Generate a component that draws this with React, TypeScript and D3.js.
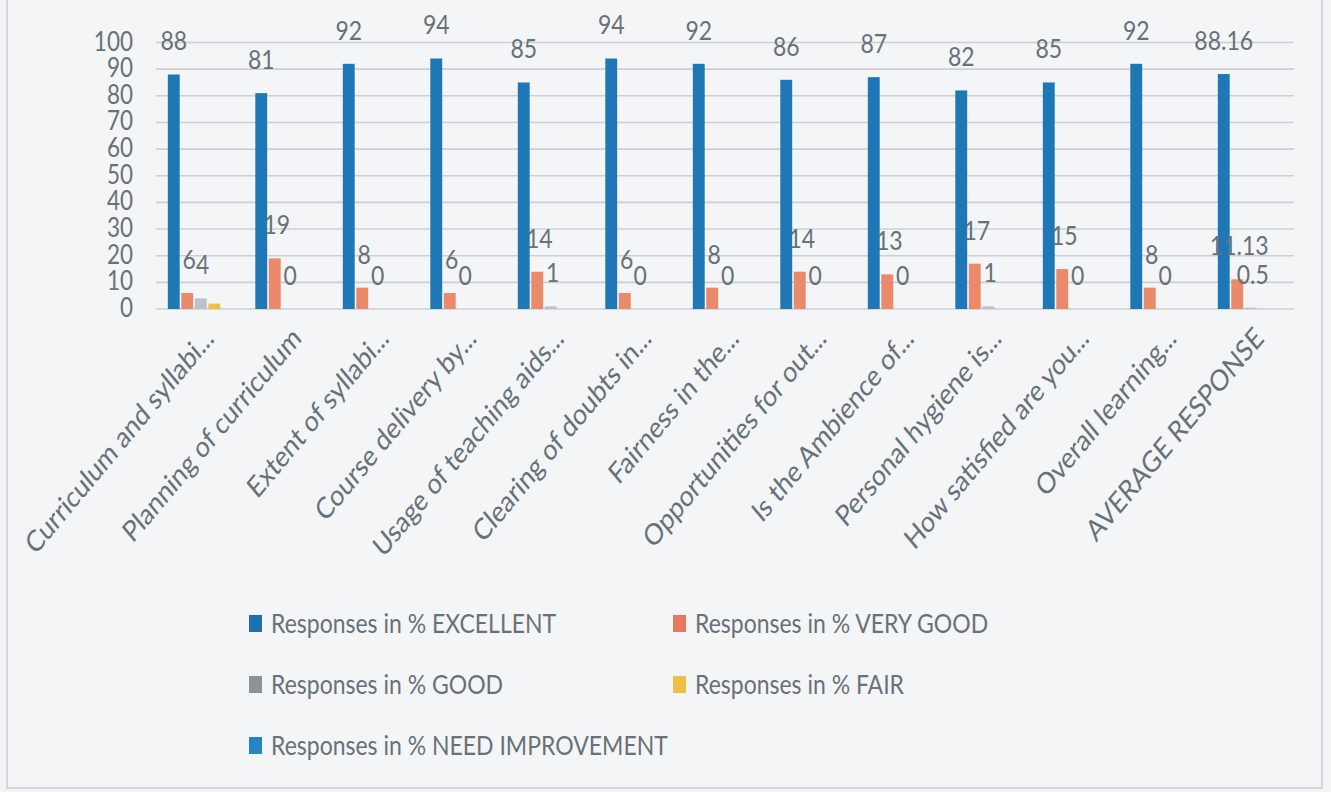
import * as d3 from "d3";
import React from "react";

const categories = [
  "Curriculum and syllabi...",
  "Planning of curriculum",
  "Extent of syllabi...",
  "Course delivery by...",
  "Usage of teaching aids...",
  "Clearing of doubts in...",
  "Fairness in the...",
  "Opportunities for out...",
  "Is the Ambience of...",
  "Personal hygiene is...",
  "How satisfied are you...",
  "Overall learning...",
  "AVERAGE RESPONSE",
];

const seriesNames = [
  "Responses in % EXCELLENT",
  "Responses in % VERY GOOD",
  "Responses in % GOOD",
  "Responses in % FAIR",
  "Responses in % NEED IMPROVEMENT",
];

const excellent = [88, 81, 92, 94, 85, 94, 92, 86, 87, 82, 85, 92, 88.16];
const veryGood = [6, 19, 8, 6, 14, 6, 8, 14, 13, 17, 15, 8, 11.13];
const good = [4, 0, 0, 0, 1, 0, 0, 0, 0, 1, 0, 0, 0.5];
const fair = [2, 0, 0, 0, 0, 0, 0, 0, 0, 0, 0, 0, 0];
const needImprovement = [0, 0, 0, 0, 0, 0, 0, 0, 0, 0, 0, 0, 0];

const seriesValues = [excellent, veryGood, good, fair, needImprovement];
// which series carry data labels in the picture
const labelled = [true, true, true, false, false];

const colors = ["#1f78b5", "#ea8a6b", "#bcc2c8", "#eec04a", "#2b88c9"];
const legendColors = ["#1f6fae", "#e8775e", "#8b9298", "#efbf45", "#2684c6"];

const W = 1331;
const H = 792;
const TEXT = "#687177";
const FONT = "Lato, 'Open Sans', sans-serif";
const SY = 1.2; // the source picture is stretched vertically

function Txt({ x, y, anchor, rotate, size, children }: any) {
  const tr = `translate(${x},${y}) scale(1,${SY})` + (rotate ? ` rotate(${rotate})` : "");
  return (
    <text
      transform={tr}
      textAnchor={anchor || "start"}
      fontFamily={FONT}
      fontSize={size || 23}
      fill={TEXT}
    >
      {children}
    </text>
  );
}

export default function App() {
  const x0 = d3.scaleBand<string>().domain(categories).range([157.5, 1295]);
  const x1 = d3
    .scaleBand<string>()
    .domain(seriesNames)
    .range([9.5, 77])
    .paddingInner(0.12)
    .paddingOuter(0.06);
  const y = d3.scaleLinear().domain([0, 100]).range([309, 42.5]);
  const ticks = y.ticks(10);

  const fmt = (v: number) => String(v);

  return (
    <svg
      width={W}
      height={H}
      style={{ position: "absolute", left: 0, top: 0, background: "#f2f4f6" }}
    >
      <rect x={0} y={0} width={W} height={H} fill="#f2f4f6" />
      <rect x={7} y={-2} width={1315} height={790} fill="#f3f5f7" stroke="#c9cdd1" strokeWidth={1.5} />

      {/* gridlines */}
      {ticks.map((t) => (
        <line key={t} x1={156} x2={1294} y1={y(t)} y2={y(t)} stroke="#cbd0d5" strokeWidth={1.6} />
      ))}

      {/* y tick labels */}
      {ticks.map((t) => (
        <Txt key={"yt" + t} x={133} y={y(t) + 8} anchor="end" size={22.5}>
          {t}
        </Txt>
      ))}

      {/* bars */}
      {categories.map((c, i) => (
        <g key={c} transform={`translate(${x0(c)},0)`}>
          {seriesNames.map((s, k) => {
            const v = seriesValues[k][i];
            return (
              <rect
                key={s}
                x={x1(s)}
                y={y(v)}
                width={x1.bandwidth()}
                height={y(0) - y(v)}
                fill={colors[k]}
              />
            );
          })}
        </g>
      ))}

      {/* data labels */}
      {categories.map((c, i) =>
        seriesNames.map((s, k) => {
          if (!labelled[k]) return null;
          const v = seriesValues[k][i];
          const cx = (x0(c) as number) + (x1(s) as number) + x1.bandwidth() / 2 + (k === 0 ? 0 : 2);
          return (
            <Txt key={"dl" + c + s} x={cx} y={y(v) - 24} anchor="middle">
              {fmt(v)}
            </Txt>
          );
        })
      )}

      {/* category labels */}
      {categories.map((c) => {
        const cx = (x0(c) as number) + x0.bandwidth() / 2;
        return (
          <Txt key={"cl" + c} x={cx + 14} y={340} anchor="end" rotate={-45} size={24.5}>
            {c}
          </Txt>
        );
      })}

      {/* legend */}
      {seriesNames.map((s, k) => {
        const col = k % 2;
        const row = Math.floor(k / 2);
        const lx = col === 0 ? 249 : 673;
        const ly = 633 + row * 61;
        return (
          <g key={"lg" + s}>
            <rect x={lx} y={ly - 18} width={13} height={17} fill={legendColors[k]} />
            <Txt x={lx + 22} y={ly}>
              {s}
            </Txt>
          </g>
        );
      })}
    </svg>
  );
}
